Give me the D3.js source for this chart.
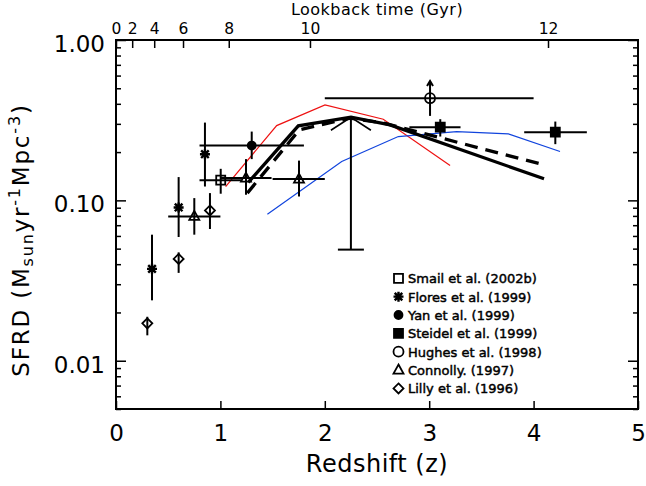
<!DOCTYPE html>
<html><head><meta charset="utf-8">
<script src="https://cdn.jsdelivr.net/npm/d3@7"></script>
<style>
body{margin:0;background:#fff}
svg{display:block}
text{font-family:"DejaVu Sans",sans-serif;fill:#000}
</style>
</head><body>
<svg id="c" width="646" height="486"></svg>
<script>
// ---------------- data ----------------
const xTickValues = [0, 1, 2, 3, 4, 5];
const yMajorValues = [1.0, 0.1, 0.01];
const yMajorLabels = ["1.00", "0.10", "0.01"];
const lookbackGyr = [0, 2, 4, 6, 8, 10, 12];
const lookbackAtZ = [0, 0.155, 0.366, 0.642, 1.08, 1.858, 4.138];

// Lilly et al. (1996) - diamonds
const lillyZ  = [0.30, 0.60, 0.90];
const lillyV  = [0.0171, 0.0431, 0.0865];
const lillyLo = [0.0144, 0.0353, 0.0663];
const lillyHi = [0.0188, 0.0474, 0.111];

// Flores et al. (1999) - asterisks
const floresZ  = [0.345, 0.60, 0.852];
const floresV  = [0.0374, 0.0903, 0.194];
const floresLo = [0.0238, 0.0591, 0.122];
const floresHi = [0.0611, 0.1397, 0.3055];

// Connolly (1997) - triangles
const connZ    = [0.75, 1.245, 1.753];
const connZLo  = [0.50, 1.00, 1.50];
const connZHi  = [1.00, 1.49, 2.00];
const connV    = [0.0794, 0.1377, 0.1357];
const connLo   = [0.0611, 0.1084, 0.1057];
const connHi   = [0.1033, 0.1808, 0.177];

// Smail et al. (2002b) - open square
const smailZ = [1.003], smailZLo = [0.80], smailZHi = [1.20];
const smailV = [0.1337], smailLo = [0.110], smailHi = [0.1573];

// Yan et al. (1999) - filled circle
const yanZ = [1.30], yanZLo = [0.80], yanZHi = [1.80];
const yanV = [0.2197], yanLo = [0.1808], yanHi = [0.2685];

// Steidel et al. (1999) - filled squares
const steidelZ   = [3.106, 4.208];
const steidelZLo = [2.81, 3.91];
const steidelZHi = [3.30, 4.51];
const steidelV   = [0.286, 0.2662];
const steidelLo  = [0.250, 0.2241];
const steidelHi  = [0.3208, 0.310];

// Hughes et al. (1998) - open circle, lower limit arrow
const hughesZ = [3.008], hughesZLo = [2.00], hughesZHi = [4.00];
const hughesV = [0.4335], hughesLo = [0.3363], hughesArrowTo = [0.5555];

// unlabelled point with large error (z ~ 2.25)
const bigZ = [2.25], bigV = [0.330], bigLo = [0.0493];

// model curves
const solidZ  = [1.267, 1.746, 2.251, 2.625, 4.10];
const solidV  = [0.1293, 0.2914, 0.330, 0.2956, 0.1363];
const dashedZ = [1.258, 1.756, 2.241, 2.557, 4.10];
const dashedV = [0.111, 0.2752, 0.3255, 0.3042, 0.1666];
const redZ    = [1.05, 1.539, 2.002, 2.56, 3.20];
const redV    = [0.122, 0.2926, 0.3938, 0.3208, 0.165];
const blueZ   = [1.45, 2.162, 2.704, 3.263, 3.758, 4.253];
const blueV   = [0.0819, 0.1747, 0.250, 0.2685, 0.260, 0.2016];

const legendLabels = ["Smail et al. (2002b)", "Flores et al. (1999)", "Yan et al. (1999)",
  "Steidel et al. (1999)", "Hughes et al. (1998)", "Connolly. (1997)", "Lilly et al. (1996)"];
const legendSymbols = ["square", "asterisk", "dot", "fsquare", "circle", "triangle", "diamond"];

// ---------------- drawing ----------------
const svg = d3.select("#c");
const L = 116, R = 638, T = 40, B = 409;
const x = d3.scaleLinear().domain([0, 5]).range([L, R]);
const y = d3.scaleLog().domain([0.005, 1]).range([B, T]);

const zip = (...a) => a[0].map((_, i) => a.map(arr => arr[i]));

// model lines
const line = d3.line().x(d => x(d[0])).y(d => y(d[1]));
svg.append("path").attr("d", line(zip(redZ, redV))).attr("fill", "none")
  .attr("stroke", "#ee1111").attr("stroke-width", 1.2);
svg.append("path").attr("d", line(zip(blueZ, blueV))).attr("fill", "none")
  .attr("stroke", "#1144dd").attr("stroke-width", 1.2);
svg.append("path").attr("d", line(zip(dashedZ, dashedV))).attr("fill", "none")
  .attr("stroke", "#000").attr("stroke-width", 3.3).attr("stroke-dasharray", "13,8");
svg.append("path").attr("d", line(zip(solidZ, solidV))).attr("fill", "none")
  .attr("stroke", "#000").attr("stroke-width", 3.3).attr("stroke-linejoin", "miter");

// marker shapes
function symbolPath(type) {
  switch (type) {
    case "diamond": return "M0,-5L5,0L0,5L-5,0Z";
    case "triangle": return "M0,-5.5L5,3.5L-5,3.5Z";
    case "square": case "fsquare": return "M-4.5,-4.5H4.5V4.5H-4.5Z";
    case "asterisk": return "M-5,0H5M0,-5V5M-3.8,-3.8L3.8,3.8M-3.8,3.8L3.8,-3.8";
    case "dot": return "M-4,0A4,4 0 1,0 4,0A4,4 0 1,0 -4,0Z";
    case "circle": return "M-5,0A5,5 0 1,0 5,0A5,5 0 1,0 -5,0Z";
  }
}
function drawMarker(g, type, px, py) {
  const filled = (type === "dot" || type === "fsquare");
  g.append("path").attr("d", symbolPath(type))
    .attr("transform", `translate(${px},${py})`)
    .attr("fill", filled ? "#000" : "none")
    .attr("stroke", "#000")
    .attr("stroke-width", type === "asterisk" ? 2.4 : 1.8);
}

const eb = svg.append("g").attr("stroke", "#000").attr("stroke-width", 2).attr("fill", "none");
function vbar(z, lo, hi) { eb.append("line").attr("x1", x(z)).attr("x2", x(z)).attr("y1", y(lo)).attr("y2", y(hi)); }
function hbar(v, zlo, zhi) { eb.append("line").attr("x1", x(zlo)).attr("x2", x(zhi)).attr("y1", y(v)).attr("y2", y(v)); }

const series = [
  {type: "diamond", z: lillyZ, v: lillyV, lo: lillyLo, hi: lillyHi},
  {type: "asterisk", z: floresZ, v: floresV, lo: floresLo, hi: floresHi},
  {type: "triangle", z: connZ, v: connV, lo: connLo, hi: connHi, zlo: connZLo, zhi: connZHi},
  {type: "square", z: smailZ, v: smailV, lo: smailLo, hi: smailHi, zlo: smailZLo, zhi: smailZHi},
  {type: "dot", z: yanZ, v: yanV, lo: yanLo, hi: yanHi, zlo: yanZLo, zhi: yanZHi},
  {type: "fsquare", z: steidelZ, v: steidelV, lo: steidelLo, hi: steidelHi, zlo: steidelZLo, zhi: steidelZHi},
  {type: "circle", z: hughesZ, v: hughesV, lo: hughesLo, hi: hughesArrowTo, zlo: hughesZLo, zhi: hughesZHi}
];
const mk = svg.append("g");
series.forEach(s => {
  s.z.forEach((z, i) => {
    vbar(z, s.lo[i], s.hi[i]);
    if (s.zlo) hbar(s.v[i], s.zlo[i], s.zhi[i]);
    drawMarker(mk, s.type, x(z), y(s.v[i]));
  });
});
hughesZ.forEach((z, i) => {
  const px = x(z), py = y(hughesArrowTo[i]);
  eb.append("path").attr("d", `M${px - 3},${py + 5}L${px},${py}L${px + 3},${py + 5}`);
});
bigZ.forEach((z, i) => {
  const px = x(z), top = y(bigV[i]), bot = y(bigLo[i]);
  eb.append("line").attr("x1", px).attr("x2", px).attr("y1", top).attr("y2", bot);
  eb.append("line").attr("x1", px - 13).attr("x2", px + 13).attr("y1", bot).attr("y2", bot);
  eb.append("path").attr("stroke-width", 1.6).attr("d", `M${px - 20},${top + 13}L${px},${top}L${px + 20},${top + 13}`);
});

// ---------------- axes ----------------
const minorVals = [];
[0.001, 0.01, 0.1].forEach(d => { for (let k = 2; k <= 9; k++) { const v = d * k; if (v >= 0.005 && v < 1) minorVals.push(v); } });

function clean(g) { g.select(".domain").remove(); g.selectAll("line").attr("stroke", "#000").attr("stroke-width", 1.5); }

svg.append("g").attr("transform", `translate(${L},0)`)
  .call(d3.axisLeft(y).tickValues(yMajorValues).tickSize(-10).tickPadding(11)
    .tickFormat((d, i) => yMajorLabels[i]))
  .call(clean)
  .selectAll("text").attr("font-size", 23).attr("font-family", "DejaVu Sans").attr("fill", "#000").attr("dy", "0.5em");
svg.append("g").attr("transform", `translate(${L},0)`)
  .call(d3.axisLeft(y).tickValues(minorVals).tickSize(-5).tickFormat(""))
  .call(clean);
svg.append("g").attr("transform", `translate(${R},0)`)
  .call(d3.axisRight(y).tickValues(yMajorValues).tickSize(-10).tickFormat(""))
  .call(clean);
svg.append("g").attr("transform", `translate(${R},0)`)
  .call(d3.axisRight(y).tickValues(minorVals).tickSize(-5).tickFormat(""))
  .call(clean);
svg.append("g").attr("transform", `translate(0,${B})`)
  .call(d3.axisBottom(x).tickValues(xTickValues).tickSize(-8).tickPadding(16).tickFormat(d3.format("d")))
  .call(clean)
  .selectAll("text").attr("font-size", 23).attr("font-family", "DejaVu Sans").attr("fill", "#000");
svg.append("g").attr("transform", `translate(0,${T})`)
  .call(d3.axisTop(x).tickValues(lookbackAtZ).tickSize(-8).tickPadding(6)
    .tickFormat((d, i) => lookbackGyr[i]))
  .call(clean)
  .selectAll("text").attr("font-size", 15.5).attr("font-family", "DejaVu Sans").attr("fill", "#000");

svg.append("rect").attr("x", L).attr("y", T).attr("width", R - L).attr("height", B - T)
  .attr("fill", "none").attr("stroke", "#000").attr("stroke-width", 2);

// titles
svg.append("text").attr("x", (L + R) / 2).attr("y", 472).attr("text-anchor", "middle")
  .attr("font-size", 24).attr("letter-spacing", 0.5).text("Redshift (z)");
svg.append("text").attr("x", (L + R) / 2).attr("y", 15).attr("text-anchor", "middle")
  .attr("font-size", 16).attr("letter-spacing", 0.5).text("Lookback time (Gyr)");

const yt = svg.append("text").attr("transform", `translate(29,240) rotate(-90)`)
  .attr("text-anchor", "middle").attr("font-size", 23).attr("letter-spacing", 1.8);
yt.append("tspan").text("SFRD (M");
yt.append("tspan").attr("font-size", 16).attr("dy", 4).text("sun");
yt.append("tspan").attr("dy", -4).text("yr");
yt.append("tspan").attr("font-size", 16).attr("dy", -9).text("-1");
yt.append("tspan").attr("dy", 9).text("Mpc");
yt.append("tspan").attr("font-size", 16).attr("dy", -9).text("-3");
yt.append("tspan").attr("dy", 9).text(")");

// legend
const lg = svg.append("g");
legendLabels.forEach((lab, i) => {
  const ly = 278.3 + i * 18.35;
  drawMarker(lg, legendSymbols[i], 398.5, ly);
  lg.append("text").attr("x", 408).attr("y", ly + 5).attr("font-size", 13)
    .attr("stroke", "#000").attr("stroke-width", 0.45).text(lab);
});
</script>
</body></html>
